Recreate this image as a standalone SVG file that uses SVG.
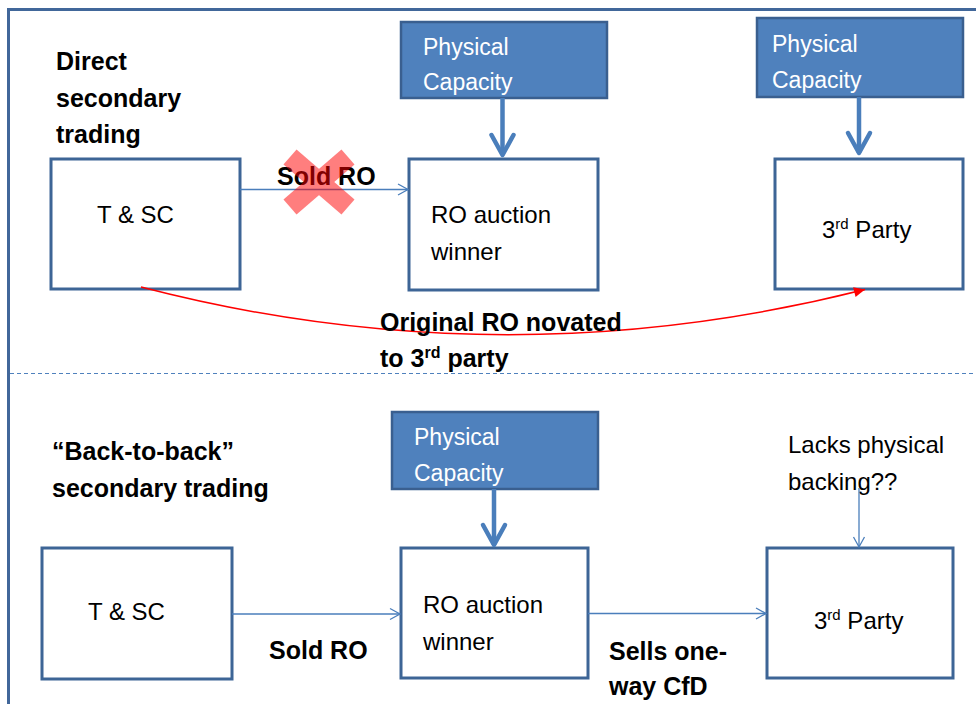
<svg xmlns="http://www.w3.org/2000/svg" width="976" height="704" viewBox="0 0 976 704">
<style>
  .box{fill:#ffffff;stroke:#3d6596;stroke-width:3}
  .pc{fill:#4f81bd;stroke:#3a5f8f;stroke-width:2.5}
  .t{font-family:"Liberation Sans",Arial,sans-serif;font-size:24px;fill:#000}
  .w{font-family:"Liberation Sans",Arial,sans-serif;font-size:23px;fill:#ffffff}
  .b{font-family:"Liberation Sans",Arial,sans-serif;font-size:25px;font-weight:bold;fill:#000}
  .fat{fill:none;stroke:#4a7ebb;stroke-width:4.5}
  .thin{fill:none;stroke:#4a7ebb;stroke-width:1.3}
  .red{fill:none;stroke:#ff0000;stroke-width:1.5}
</style>
<defs>
  <marker id="fatHead" markerUnits="userSpaceOnUse" viewBox="-26 -16 30 32" markerWidth="30" markerHeight="32" refX="0" refY="0" orient="auto">
    <path d="M-20,-11 L0,0 L-20,11" fill="none" stroke="#4a7ebb" stroke-width="4.5" stroke-linejoin="round" stroke-linecap="round"/>
  </marker>
  <marker id="thinHead" markerUnits="userSpaceOnUse" viewBox="-12 -8 14 16" markerWidth="14" markerHeight="16" refX="0" refY="0" orient="auto">
    <path d="M-10,-5.5 L0,0 L-10,5.5" fill="none" stroke="#4a7ebb" stroke-width="1.3"/>
  </marker>
  <marker id="redHead" markerUnits="userSpaceOnUse" viewBox="-12 -7 14 14" markerWidth="14" markerHeight="14" refX="0" refY="0" orient="auto">
    <path d="M-11,-5 L0,0 L-11,5 Z" fill="#ff0000"/>
  </marker>
</defs>

<rect width="976" height="704" fill="#ffffff"/>
<!-- outer frame -->
<rect x="8.5" y="9.5" width="1000" height="1000" fill="none" stroke="#41679a" stroke-width="3"/>
<!-- separator -->
<line x1="10" y1="373.5" x2="976" y2="373.5" stroke="#4f81bd" stroke-width="1" stroke-dasharray="4,3"/>

<!-- section titles -->
<g id="title-direct">
  <text class="b" x="56" y="70">Direct</text>
  <text class="b" x="56" y="107">secondary</text>
  <text class="b" x="56" y="143">trading</text>
</g>
<g id="title-b2b">
  <text class="b" x="52" y="460">“Back-to-back”</text>
  <text class="b" x="52" y="497">secondary trading</text>
</g>

<!-- top section nodes -->
<g id="pc1">
  <rect class="pc" x="401" y="22" width="206" height="76"/>
  <text class="w" x="423" y="55">Physical</text>
  <text class="w" x="423" y="90">Capacity</text>
</g>
<g id="pc2">
  <rect class="pc" x="757" y="18" width="206" height="79"/>
  <text class="w" x="772" y="52">Physical</text>
  <text class="w" x="772" y="88">Capacity</text>
</g>
<g id="tsc1">
  <rect class="box" x="51" y="159" width="189" height="130"/>
  <text class="t" x="97" y="223">T &amp; SC</text>
</g>
<g id="row1">
  <rect class="box" x="409" y="159" width="189" height="131"/>
  <text class="t" x="431" y="223">RO auction</text>
  <text class="t" x="431" y="260">winner</text>
</g>
<g id="third1">
  <rect class="box" x="775" y="159" width="188" height="130"/>
  <text class="t" x="822" y="238">3<tspan font-size="15" dy="-9">rd</tspan><tspan dy="9"> Party</tspan></text>
</g>

<!-- bottom section nodes -->
<g id="pc3">
  <rect class="pc" x="392" y="412" width="206" height="77"/>
  <text class="w" x="414" y="445">Physical</text>
  <text class="w" x="414" y="481">Capacity</text>
</g>
<g id="tsc2">
  <rect class="box" x="42" y="548" width="190" height="131"/>
  <text class="t" x="88" y="620">T &amp; SC</text>
</g>
<g id="row2">
  <rect class="box" x="401" y="548" width="187" height="130"/>
  <text class="t" x="423" y="613">RO auction</text>
  <text class="t" x="423" y="650">winner</text>
</g>
<g id="third2">
  <rect class="box" x="767" y="548" width="186" height="130"/>
  <text class="t" x="814" y="629">3<tspan font-size="15" dy="-9">rd</tspan><tspan dy="9"> Party</tspan></text>
</g>
<g id="lacks">
  <text class="t" x="788" y="453" font-size="25">Lacks physical</text>
  <text class="t" x="788" y="490" font-size="25">backing??</text>
</g>

<!-- connectors -->
<g id="connectors">
  <line class="fat" x1="502.5" y1="98" x2="502.5" y2="155" marker-end="url(#fatHead)"/>
  <line class="fat" x1="859" y1="97" x2="859" y2="153" marker-end="url(#fatHead)"/>
  <line class="fat" x1="494" y1="489" x2="494" y2="545" marker-end="url(#fatHead)"/>
  <line class="thin" x1="240" y1="189.5" x2="408" y2="189.5" marker-end="url(#thinHead)"/>
  <path class="red" d="M141,287 Q503,381 865,289.5" marker-end="url(#redHead)"/>
  <line class="thin" x1="232" y1="614" x2="400" y2="614" marker-end="url(#thinHead)"/>
  <line class="thin" x1="588" y1="613.5" x2="766" y2="613.5" marker-end="url(#thinHead)"/>
  <line class="thin" x1="859" y1="488" x2="859" y2="547" marker-end="url(#thinHead)"/>
</g>

<!-- connector labels -->
<g id="labels">
  <text class="b" x="277" y="185">Sold RO</text>
  <text class="b" x="380" y="331">Original RO novated</text>
  <text class="b" x="380" y="367">to 3<tspan font-size="16" dy="-9">rd</tspan><tspan dy="9"> party</tspan></text>
  <text class="b" x="269" y="659">Sold RO</text>
  <text class="b" x="609" y="660">Sells one-</text>
  <text class="b" x="609" y="695">way CfD</text>
</g>

<!-- red cross over "Sold RO" -->
<g id="cross" opacity="0.5">
  <line x1="290" y1="157" x2="348" y2="207" stroke="#ff0000" stroke-width="20"/>
  <line x1="348" y1="157" x2="290" y2="207" stroke="#ff0000" stroke-width="20"/>
</g>
</svg>
